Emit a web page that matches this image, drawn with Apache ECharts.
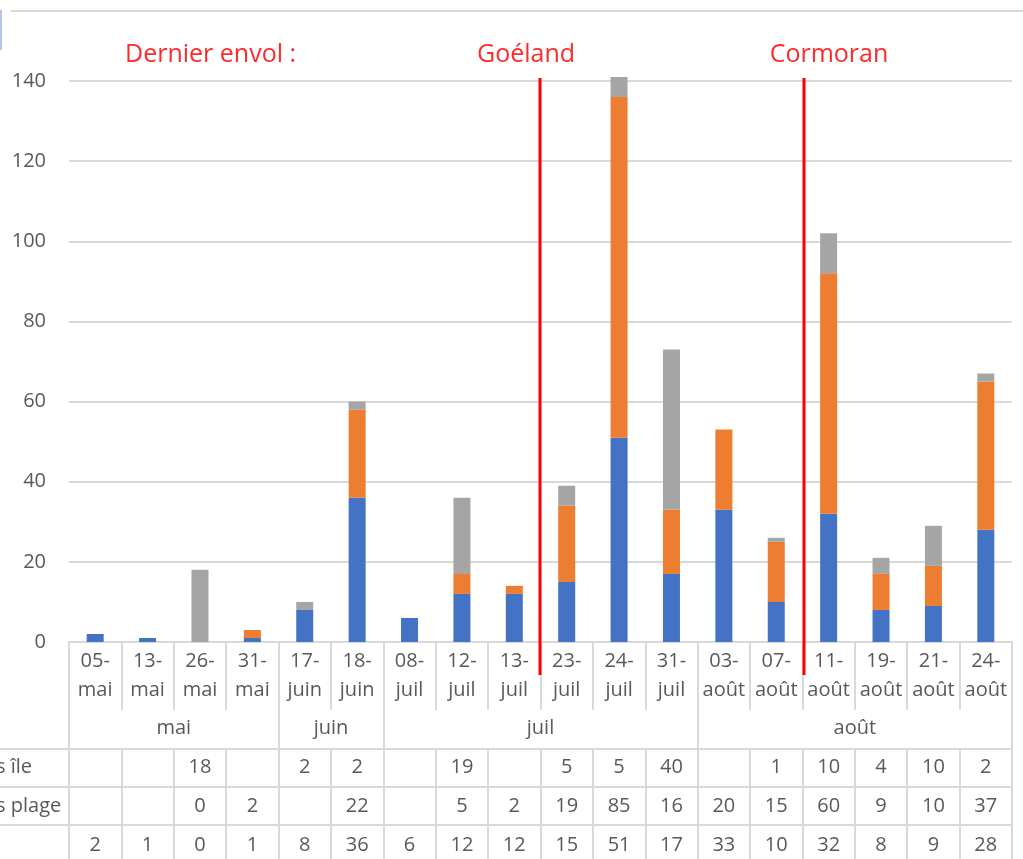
<!DOCTYPE html>
<html>
<head>
<meta charset="utf-8">
<script src="https://cdn.jsdelivr.net/npm/echarts@6/dist/echarts.min.js"></script>
<style>
  html, body { margin: 0; padding: 0; background: #fff; }
  #chart { width: 1023px; height: 859px; }
</style>
</head>
<body>
<div id="chart"></div>
<script>
  // dates (x categories) and the month group each one belongs to
  var dates = ['05-\nmai', '13-\nmai', '26-\nmai', '31-\nmai', '17-\njuin', '18-\njuin',
    '08-\njuil', '12-\njuil', '13-\njuil', '23-\njuil', '24-\njuil', '31-\njuil',
    '03-\naoût', '07-\naoût', '11-\naoût', '19-\naoût', '21-\naoût', '24-\naoût'];
  var months = ['mai', 'juin', 'juil', 'août'];
  var monthSizes = [4, 2, 6, 6];

  // data table rows (null = empty cell)
  var ile = [null, null, 18, null, 2, 2, null, 19, null, 5, 5, 40, null, 1, 10, 4, 10, 2];
  var plage = [null, null, 0, 2, null, 22, null, 5, 2, 19, 85, 16, 20, 15, 60, 9, 10, 37];
  var base = [2, 1, 0, 1, 8, 36, 6, 12, 12, 15, 51, 17, 33, 10, 32, 8, 9, 28];
  var rowNames = ['s île', 's plage', ''];

  // "dernier envol" markers, as column boundaries
  var envols = [{at: 9, name: 'Goéland'}, {at: 14, name: 'Cormoran'}];

  var GRID = '#d9d9d9';
  var TXT = '#595959';
  var FONT = '"Open Sans", "Liberation Sans", sans-serif';

  // boundary axis: points 0..18 on column boundaries
  var bounds = [];
  for (var i = 0; i <= dates.length; i++) bounds.push(String(i));
  // where the month labels go (middle of each group) and group edges
  var groupEdges = [0];
  var groupMid = {};
  var acc = 0;
  monthSizes.forEach(function (n, k) {
    groupMid[acc + n / 2] = months[k];
    acc += n;
    groupEdges.push(acc);
  });

  var chartTop = 81, axisY = 642, tableBottom = 859;

  function rowAxis(arr, center) {
    return {
      type: 'category', data: dates, position: 'bottom', gridIndex: 0,
      axisLine: {show: false}, axisTick: {show: false},
      axisLabel: {
        interval: 0, margin: center - axisY - 12, fontSize: 20, lineHeight: 24,
        color: TXT, fontFamily: FONT,
        formatter: function (v, i) { return arr[i] == null ? '' : String(arr[i]); }
      }
    };
  }

  var dom = document.getElementById('chart');
  var myChart = echarts.init(dom);

  var option = {
    animation: false,
    grid: {left: 69, right: 11, top: chartTop, bottom: 859 - axisY, containLabel: false},
    xAxis: [
      {
        type: 'category', data: dates,
        axisLine: {lineStyle: {color: GRID, width: 2}},
        axisTick: {show: true, length: 68, lineStyle: {color: GRID, width: 2}},
        axisLabel: {interval: 0, margin: 5, fontSize: 20, lineHeight: 29, color: TXT, fontFamily: FONT}
      },
      {
        // month groups + full-height table dividers
        type: 'category', data: bounds, boundaryGap: false, position: 'bottom',
        axisLine: {show: false},
        axisTick: {
          show: true, length: tableBottom - axisY + 5,
          interval: function (i) { return groupEdges.indexOf(i) >= 0; },
          lineStyle: {color: GRID, width: 2}
        },
        axisLabel: {
          interval: 0, margin: 728 - axisY - 12, fontSize: 20, lineHeight: 24, color: TXT, fontFamily: FONT,
          formatter: function (v, i) { return groupMid[i] || ''; }
        }
      },
      {
        // column dividers in the value rows
        type: 'category', data: dates, position: 'bottom', offset: 749 - axisY,
        axisLine: {show: false},
        axisTick: {show: true, length: tableBottom - 749 + 5, lineStyle: {color: GRID, width: 2}},
        axisLabel: {show: false}
      },
      rowAxis(ile, 767),
      rowAxis(plage, 806),
      rowAxis(base, 845)
    ],
    yAxis: {
      type: 'value', min: 0, max: 140, interval: 20,
      axisLine: {show: false}, axisTick: {show: false},
      axisLabel: {margin: 23, fontSize: 20, color: TXT, fontFamily: FONT},
      splitLine: {lineStyle: {color: GRID, width: 2}}
    },
    series: [
      {name: 'base', type: 'bar', stack: 'a', data: base, barWidth: 17, clip: false, itemStyle: {color: '#4472c4'}},
      {name: 'plage', type: 'bar', stack: 'a', data: plage, barWidth: 17, clip: false, itemStyle: {color: '#ed7d31'}},
      {name: 'île', type: 'bar', stack: 'a', data: ile, barWidth: 17, clip: false, itemStyle: {color: '#a5a5a5'}}
    ]
  };
  myChart.setOption(option);

  // decorations: table rules, row names, frame, red markers
  var gfx = [
    {type: 'line', shape: {x1: 11, y1: 11, x2: 1023, y2: 11}, style: {stroke: GRID, lineWidth: 2}},
    {type: 'rect', shape: {x: 0, y: 10, width: 2, height: 40}, style: {fill: '#b4c7e7'}},
    {type: 'text', x: 125, y: 55, style: {text: 'Dernier envol :', fill: '#ff2a2a', fontSize: 25, fontFamily: FONT, verticalAlign: 'middle'}}
  ];
  [749, 787, 825].forEach(function (y) {
    gfx.push({type: 'line', shape: {x1: 0, y1: y, x2: 1012, y2: y}, style: {stroke: GRID, lineWidth: 2}});
  });
  [767, 806, 845].forEach(function (y, k) {
    gfx.push({type: 'text', x: -4, y: y, style: {text: rowNames[k], fill: TXT, fontSize: 20, fontFamily: FONT, verticalAlign: 'middle'}});
  });
  var textX = [526, 829];
  envols.forEach(function (e, k) {
    var x = Math.round(myChart.convertToPixel({xAxisIndex: 1}, e.at)) + (k === 1 ? 2 : -1);
    gfx.push({type: 'line', z: 10, shape: {x1: x, y1: 78, x2: x, y2: 675}, style: {stroke: '#ff0000', lineWidth: 3}});
    gfx.push({type: 'text', x: textX[k], y: 55, style: {text: e.name, fill: '#ff2a2a', fontSize: 25, fontFamily: FONT, align: 'center', verticalAlign: 'middle'}});
  });
  myChart.setOption({graphic: gfx});
</script>
</body>
</html>
